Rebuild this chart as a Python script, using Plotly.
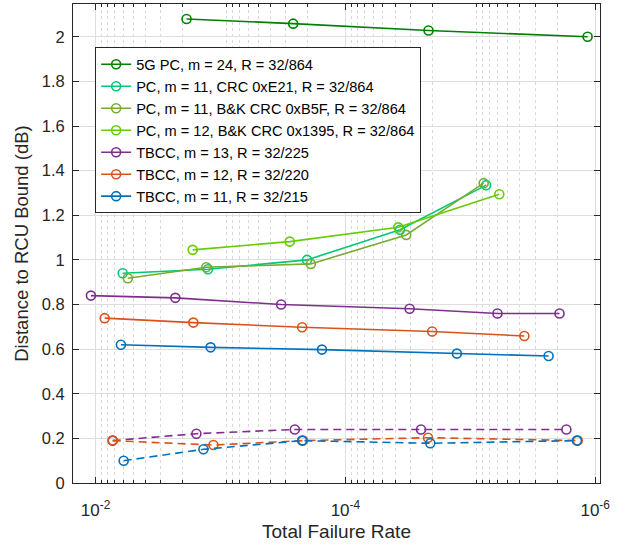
import plotly.graph_objects as go
import numpy as np

# ---- data ----
pc5g_x = [1.87e-3, 2.62e-4, 2.16e-5, 1.15e-6]
pc5g_y = [2.08, 2.059, 2.028, 2.0]

pce21_x = [6.07e-3, 1.26e-3, 2.03e-4, 3.65e-5, 7.46e-6]
pce21_y = [0.94, 0.958, 1.0, 1.135, 1.335]

pcb5f_x = [5.52e-3, 1.30e-3, 1.89e-4, 3.26e-5, 7.81e-6]
pcb5f_y = [0.918, 0.967, 0.982, 1.112, 1.344]

pc1395_x = [1.67e-3, 2.79e-4, 3.77e-5, 5.86e-6]
pc1395_y = [1.045, 1.082, 1.146, 1.294]

tb13_x = [1.09e-2, 2.30e-3, 3.27e-4, 3.06e-5, 6.06e-6, 1.93e-6]
tb13_y = [0.840, 0.830, 0.800, 0.781, 0.760, 0.760]

tb12_x = [8.46e-3, 1.65e-3, 2.22e-4, 2.02e-5, 3.69e-6]
tb12_y = [0.739, 0.719, 0.698, 0.679, 0.659]

tb11_x = [6.27e-3, 1.20e-3, 1.54e-4, 1.28e-5, 2.36e-6]
tb11_y = [0.620, 0.608, 0.598, 0.580, 0.569]

tb13d_x = [7.30e-3, 1.56e-3, 2.54e-4, 2.48e-5, 1.70e-6]
tb13d_y = [0.190, 0.221, 0.240, 0.240, 0.240]

tb12d_x = [7.30e-3, 1.14e-3, 2.19e-4, 2.18e-5, 1.38e-6]
tb12d_y = [0.190, 0.170, 0.190, 0.203, 0.190]

tb11d_x = [5.96e-3, 1.37e-3, 2.22e-4, 2.09e-5, 1.40e-6]
tb11d_y = [0.100, 0.151, 0.190, 0.178, 0.190]

x_tickvals = [1e-2, 1e-4, 1e-6]
x_ticktext = ["10<sup>-2</sup>", "10<sup>-4</sup>", "10<sup>-6</sup>"]
y_tickvals = [0, 0.2, 0.4, 0.6, 0.8, 1, 1.2, 1.4, 1.6, 1.8, 2]

C_5G = "#008000"
C_E21 = "#00C878"
C_B5F = "#77AC30"
C_1395 = "#66CC00"
C_T13 = "#7E2F8E"
C_T12 = "#D95319"
C_T11 = "#0072BD"

fig = go.Figure()

def add(x, y, name, color, dash="solid", show=True):
    fig.add_trace(go.Scatter(
        x=x, y=y, name=name, mode="lines+markers",
        line=dict(color=color, width=1.6, dash=dash),
        marker=dict(symbol="circle-open", size=9, color=color, line=dict(width=1.6, color=color)),
        showlegend=show,
    ))

add(pc5g_x, pc5g_y, "5G PC, m = 24, R = 32/864", C_5G)
add(pce21_x, pce21_y, "PC, m = 11, CRC 0xE21, R = 32/864", C_E21)
add(pcb5f_x, pcb5f_y, "PC, m = 11, B&K CRC 0xB5F, R = 32/864", C_B5F)
add(pc1395_x, pc1395_y, "PC, m = 12, B&K CRC 0x1395, R = 32/864", C_1395)
add(tb13_x, tb13_y, "TBCC, m = 13, R = 32/225", C_T13)
add(tb12_x, tb12_y, "TBCC, m = 12, R = 32/220", C_T12)
add(tb11_x, tb11_y, "TBCC, m = 11, R = 32/215", C_T11)
add(tb13d_x, tb13d_y, "", C_T13, dash="8px,5px", show=False)
add(tb12d_x, tb12d_y, "", C_T12, dash="8px,5px", show=False)
add(tb11d_x, tb11d_y, "", C_T11, dash="8px,5px", show=False)

minor_vals = [m * 10.0 ** e for e in range(-7, -1) for m in range(2, 10)]

fig.update_layout(
    width=628, height=546,
    margin=dict(l=73, r=28, t=4, b=63, autoexpand=False),
    paper_bgcolor="white", plot_bgcolor="white",
    font=dict(family="Liberation Sans, Arial, sans-serif", size=16, color="#262626"),
    showlegend=True,
    legend=dict(
        x=0.042, y=0.9096, xanchor="left", yanchor="top",
        bgcolor="white", bordercolor="#262626", borderwidth=1,
        font=dict(size=14.6, color="#000000"),
        traceorder="normal", tracegroupgap=0,
    ),
    xaxis=dict(
        type="log",
        range=[np.log10(1.517e-2), np.log10(9.15e-7)],
        tickvals=x_tickvals, ticktext=x_ticktext,
        ticks="inside", ticklen=6, tickcolor="#262626",
        showline=True, linecolor="#262626", linewidth=1, mirror="ticks",
        showgrid=True, gridcolor="#DEDEDE", gridwidth=1,
        zeroline=False,
        minor=dict(tickvals=minor_vals, ticks="inside", ticklen=3, tickcolor="#262626",
                   showgrid=True, gridcolor="#DADADA", griddash="dot", gridwidth=1),
        title=dict(text="Total Failure Rate", font=dict(size=19), standoff=5),
        tickfont=dict(size=17),
        ticklabelstandoff=12,
    ),
    yaxis=dict(
        range=[0, 2.147],
        tickvals=y_tickvals,
        ticks="inside", ticklen=6, tickcolor="#262626",
        showline=True, linecolor="#262626", linewidth=1, mirror="ticks",
        showgrid=True, gridcolor="#DEDEDE", gridwidth=1,
        zeroline=False,
        title=dict(text="Distance to RCU Bound (dB)", font=dict(size=18.5), standoff=8),
        tickfont=dict(size=16.5),
        ticklabelstandoff=4,
    ),
)

fig.write_html("out.html", config={"displayModeBar": False},
               post_script="document.body.style.margin='0px';")
